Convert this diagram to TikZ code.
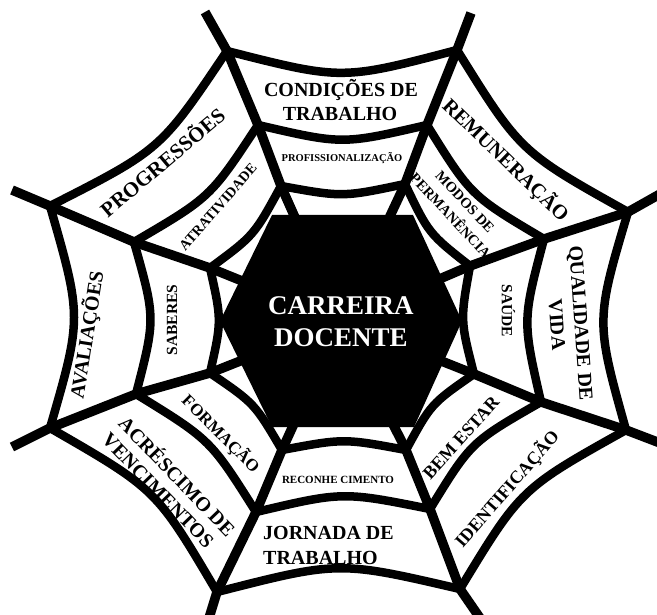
\documentclass[tikz,border=0pt]{standalone}
\usepackage{fontspec}
\setmainfont{Liberation Serif}
\usetikzlibrary{calc}
\begin{document}
\begin{tikzpicture}[x=1pt,y=-1pt,
  web/.style={line width=8.5pt, draw=black, line join=round},
  spoke/.style={line width=9.5pt, draw=black, line join=round},
  lbl/.style={inner sep=0pt, text=black},
  big/.style={font=\bfseries\fontsize{20}{24}\selectfont},
]
\useasboundingbox (0,0) rectangle (657,615);
\fill[white] (0,0) rectangle (657,615);

% centre of the web
\coordinate (C) at (341,321);
% spoke points: 1 inner ring, 2 middle ring, 3 outer ring, 4 tip
\coordinate (UL1) at (281,186); \coordinate (UL2) at (258,125); \coordinate (UL3) at (227,51);  \coordinate (UL4) at (205,12);
\coordinate (UR1) at (405,184); \coordinate (UR2) at (427,125); \coordinate (UR3) at (457,50);  \coordinate (UR4) at (471,13);
\coordinate (RU1) at (470,266); \coordinate (RU2) at (544,239); \coordinate (RU3) at (628,212); \coordinate (RU4) at (660,194);
\coordinate (RD1) at (474,374); \coordinate (RD2) at (541,402); \coordinate (RD3) at (626,430); \coordinate (RD4) at (660,443);
\coordinate (DR1) at (406,450); \coordinate (DR2) at (430,509); \coordinate (DR3) at (460,589); \coordinate (DR4) at (480,618);
\coordinate (DL1) at (282,450); \coordinate (DL2) at (256,512); \coordinate (DL3) at (217,592); \coordinate (DL4) at (209,618);
\coordinate (LD1) at (210,373); \coordinate (LD2) at (136,394); \coordinate (LD3) at (50,428);  \coordinate (LD4) at (12,447);
\coordinate (LU1) at (210,268); \coordinate (LU2) at (134,242); \coordinate (LU3) at (50,206);  \coordinate (LU4) at (12,190);

% spokes
\foreach \a in {UL,UR,RU,RD,DR,DL,LD,LU}
  \draw[spoke] (C) -- (\a1) -- (\a2) -- (\a3) -- (\a4);

% threads, sagging towards the centre
\foreach \a/\b in {UL/UR,UR/RU,RU/RD,RD/DR,DR/DL,DL/LD,LD/LU,LU/UL}{
  \foreach \r/\k in {1/0.09,2/0.10,3/0.11}{
    \draw[web] (\a\r) .. controls ($(\a\r)!0.5!(\b\r)!\k!(C)$) .. (\b\r);
  }
}

% central hexagon
\fill[black] (272,215) -- (413,215) -- (462,321) -- (414,427) -- (272,427) -- (220,321) -- cycle;
\node[lbl, anchor=base, text=white, font=\bfseries\fontsize{27}{32}\selectfont] (car1) at (341,315) {CARREIRA};
\node[lbl, anchor=base, text=white, font=\bfseries\fontsize{27}{32}\selectfont] (car2) at (341,347) {DOCENTE};

% horizontal labels
\node[lbl, big, anchor=base] (cond1) at (341,97) {CONDIÇÕES DE};
\node[lbl, big, anchor=base] (cond2) at (340,121) {TRABALHO};
\node[lbl, anchor=base, font=\bfseries\fontsize{10.5}{12}\selectfont] (prof) at (342,162) {PROFISSIONALIZAÇÃO};
\node[lbl, anchor=base, font=\bfseries\fontsize{11}{13}\selectfont] (recon) at (338,483) {RECONHE CIMENTO};
\node[lbl, big, anchor=base west] (jorn1) at (263,539) {JORNADA DE};
\node[lbl, big, anchor=base west] (jorn2) at (263,564) {TRABALHO};

% rotated labels
\begin{scope}[shift={(506,160)}, rotate=-44, transform shape]
  \node[lbl, anchor=base, font=\bfseries\fontsize{20.5}{24}\selectfont] (remun) at (0,6.8) {REMUNERAÇÃO};
\end{scope}
\begin{scope}[shift={(465,202)}, rotate=-47, transform shape]
  \node[lbl, anchor=base, font=\bfseries\fontsize{14.5}{17}\selectfont] (modos1) at (0,4.8) {MODOS DE};
  \node[lbl, anchor=base, font=\bfseries\fontsize{14.5}{17}\selectfont] (modos2) at (0,24.8) {PERMANÊNCIA};
\end{scope}
\begin{scope}[shift={(581,323)}, rotate=-86, transform shape]
  \node[lbl, big, anchor=base] (qual1) at (0,6.6) {QUALIDADE DE};
  \node[lbl, big, anchor=base] (qual2) at (0,30.6) {VIDA};
\end{scope}
\begin{scope}[shift={(507,311)}, rotate=-90, transform shape]
  \node[lbl, anchor=base, font=\bfseries\fontsize{15.5}{18}\selectfont] (saude) at (0,5.1) {SAÚDE};
\end{scope}
\begin{scope}[shift={(461,438)}, rotate=48, transform shape]
  \node[lbl, anchor=base, font=\bfseries\fontsize{18}{21}\selectfont] (bem) at (0,5.9) {BEM ESTAR};
\end{scope}
\begin{scope}[shift={(507,489)}, rotate=49, transform shape]
  \node[lbl, anchor=base, font=\bfseries\fontsize{18}{21}\selectfont] (ident) at (0,5.9) {IDENTIFICAÇÃO};
\end{scope}
\begin{scope}[shift={(221,434)}, rotate=-45, transform shape]
  \node[lbl, anchor=base, font=\bfseries\fontsize{17}{20}\selectfont] (form) at (0,5.6) {FORMAÇÃO};
\end{scope}
\begin{scope}[shift={(122,420)}, rotate=-46, transform shape]
  \node[lbl, big, anchor=base west] (acres1) at (0,6.6) {ACRÉSCIMO DE};
  \node[lbl, big, anchor=base west] (acres2) at (0,29.6) {VENCIMENTOS};
\end{scope}
\begin{scope}[shift={(87,335)}, rotate=81, transform shape]
  \node[lbl, big, anchor=base] (aval) at (0,6.6) {AVALIAÇÕES};
\end{scope}
\begin{scope}[shift={(172,320)}, rotate=90, transform shape]
  \node[lbl, anchor=base, font=\bfseries\fontsize{15.5}{18}\selectfont] (sab) at (0,5.1) {SABERES};
\end{scope}
\begin{scope}[shift={(163,163)}, rotate=40, transform shape]
  \node[lbl, anchor=base, font=\bfseries\fontsize{21}{24}\selectfont] (prog) at (0,6.9) {PROGRESSÕES};
\end{scope}
\begin{scope}[shift={(218,207)}, rotate=49, transform shape]
  \node[lbl, anchor=base, font=\bfseries\fontsize{14.3}{17}\selectfont] (atra) at (0,4.7) {ATRATIVIDADE};
\end{scope}
\end{tikzpicture}
\end{document}
